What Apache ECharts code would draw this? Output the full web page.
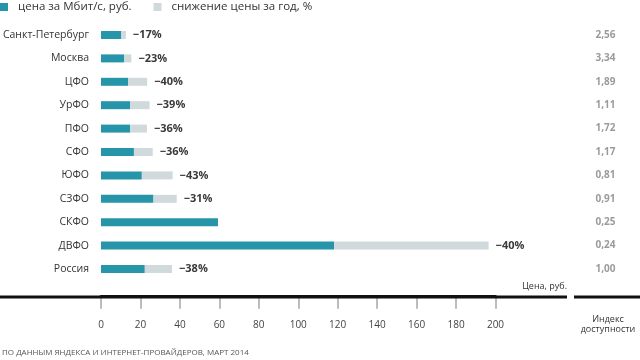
<!DOCTYPE html>
<html>
<head>
<meta charset="utf-8">
<script src="https://cdn.jsdelivr.net/npm/echarts@6/dist/echarts.min.js"></script>
<style>html,body{margin:0;padding:0;background:#fff}#c{width:640px;height:360px}</style>
</head>
<body>
<div id="c"></div>
<script>
const categories = ['Санкт-Петербург','Москва','ЦФО','УрФО','ПФО','СФО','ЮФО','СЗФО','СКФО','ДВФО','Россия'];
const price = [10.3, 11.8, 13.8, 14.8, 14.8, 16.7, 20.7, 26.6, 59.3, 118.2, 22.2];
const oldPrice = [12.6, 15.4, 23.4, 24.6, 23.3, 26.2, 36.3, 38.4, null, 196.5, 36.0];
const decline = ['−17%','−23%','−40%','−39%','−36%','−36%','−43%','−31%','','−40%','−38%'];
const indexLabels = ['2,56','3,34','1,89','1,11','1,72','1,17','0,81','0,91','0,25','0,24','1,00'];
const xTicks = [0, 20, 40, 60, 80, 100, 120, 140, 160, 180, 200];

const FONT = 'Open Sans';
const chart = echarts.init(document.getElementById('c'), null, {renderer: 'canvas'});
const gray = oldPrice.map((o, i) => o == null ? '-' : +(o - price[i]).toFixed(2));

chart.setOption({
  animation: false,
  textStyle: {fontFamily: FONT},
  legend: {
    left: 0, top: 0, padding: [1, 0], itemGap: 22,
    icon: 'rect', itemWidth: 8, itemHeight: 8,
    textStyle: {fontSize: 11.5, color: '#333', fontFamily: FONT, padding: [0, 0, 0, 5]},
    data: ['цена за Мбит/с, руб.', 'снижение цены за год, %']
  },
  grid: {left: 101, right: 144.5, top: 23.3, bottom: 79.3, containLabel: false, outerBoundsMode: 'none'},
  xAxis: {
    type: 'value', min: xTicks[0], max: xTicks[xTicks.length - 1], interval: 20,
    position: 'bottom', offset: 16,
    axisLine: {show: true, onZero: false, lineStyle: {color: '#111', width: 3}},
    axisTick: {show: true, inside: false, length: 12, lineStyle: {color: '#a6a6a6', width: 1.5}},
    splitLine: {show: false},
    axisLabel: {margin: 23, fontSize: 10, color: '#444', fontFamily: FONT}
  },
  yAxis: [{
    type: 'category', data: categories, inverse: true,
    axisLine: {show: false}, axisTick: {show: false},
    axisLabel: {margin: 12, fontSize: 10.5, color: '#333', fontFamily: FONT}
  }, {
    type: 'category', data: indexLabels, inverse: true, position: 'right',
    axisLine: {show: false}, axisTick: {show: false},
    axisLabel: {margin: 110, align: 'center', fontSize: 10, fontWeight: 'bold', color: '#9b9b9b', fontFamily: FONT}
  }],
  series: [{
    name: 'цена за Мбит/с, руб.', type: 'bar', stack: 's', barWidth: 8,
    itemStyle: {color: '#2795a9'}, data: price
  }, {
    name: 'снижение цены за год, %', type: 'bar', stack: 's', barWidth: 8,
    itemStyle: {color: '#d0d9db'}, data: gray,
    label: {
      show: true, position: 'right', distance: 7,
      fontSize: 11, fontWeight: 'bold', color: '#3a3a3a', fontFamily: FONT,
      formatter: p => decline[p.dataIndex]
    }
  }],
  graphic: [
    {type: 'rect', z: 100, shape: {x: 0, y: 295.5, width: 567, height: 3}, style: {fill: '#111'}},
    {type: 'rect', z: 100, shape: {x: 574, y: 295.5, width: 66, height: 3}, style: {fill: '#111'}},
    {type: 'text', right: 73, top: 282, style: {text: 'Цена, руб.', fontSize: 9, fill: '#333', fontFamily: FONT}},
    {type: 'text', x: 608, y: 314, style: {text: 'Индекс\nдоступности', align: 'center', fontSize: 9, lineHeight: 10, fill: '#333', fontFamily: FONT}},
    {type: 'text', x: 2, y: 349, style: {text: 'ПО ДАННЫМ ЯНДЕКСА И ИНТЕРНЕТ-ПРОВАЙДЕРОВ, МАРТ 2014', fontSize: 8, fill: '#555', fontFamily: FONT}}
  ]
});
</script>
</body>
</html>
